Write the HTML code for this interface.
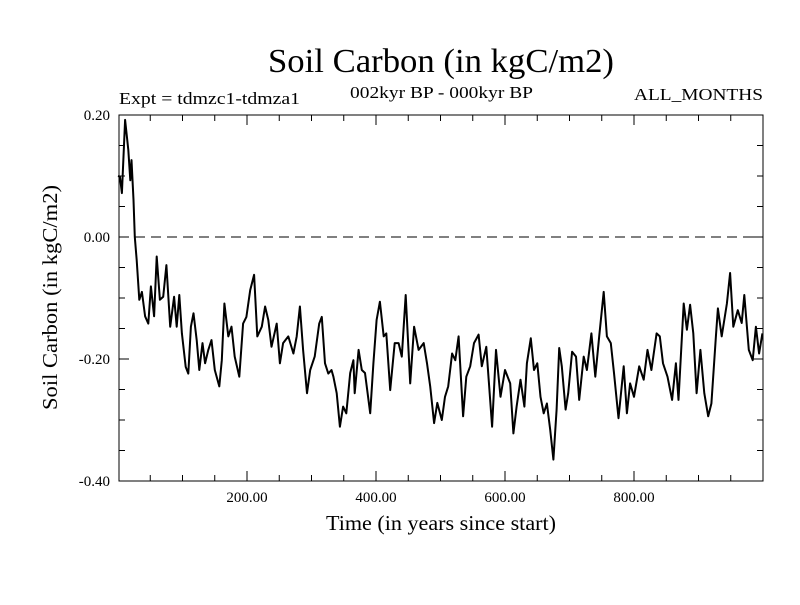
<!DOCTYPE html>
<html><head><meta charset="utf-8"><style>
body{margin:0;background:#fff}
svg text{font-family:"Liberation Serif",serif;fill:#000}
</style></head><body>
<svg id="c" width="800" height="600">
<rect width="800" height="600" fill="#fff"/>
<text x="268" y="72" font-size="34" textLength="346" lengthAdjust="spacingAndGlyphs">Soil Carbon (in kgC/m2)</text>
<text x="119" y="104" font-size="17" textLength="181" lengthAdjust="spacingAndGlyphs">Expt = tdmzc1-tdmza1</text>
<text x="350" y="98" font-size="17" textLength="183" lengthAdjust="spacingAndGlyphs">002kyr BP - 000kyr BP</text>
<text x="634" y="100" font-size="17" textLength="129" lengthAdjust="spacingAndGlyphs">ALL_MONTHS</text>
<text x="326" y="530" font-size="21" textLength="230" lengthAdjust="spacingAndGlyphs">Time (in years since start)</text>
<text transform="translate(57,410) rotate(-90)" font-size="21" textLength="225" lengthAdjust="spacingAndGlyphs">Soil Carbon (in kgC/m2)</text>
<g id="ax"></g>
</svg>
<script>
const years=[0,3,6,11,16,19,21,24,26,29,33,37,42,47,51,56,60,65,70,75,81,87,91,95,99,105,109,113,117,122,126,131,135,140,145,150,157,161,165,171,176,181,188,194,199,205,211,216,223,228,233,238,246,251,256,264,272,277,282,287,293,298,305,312,316,321,326,331,334,339,344,349,354,360,365,367,373,378,383,391,396,401,406,412,416,422,429,435,440,446,453,459,466,474,479,484,490,495,502,507,512,518,523,528,535,540,546,552,559,564,571,580,586,593,600,608,613,618,624,630,634,640,645,650,655,660,665,670,675,680,684,688,694,698,704,710,715,722,727,734,740,746,753,758,764,769,776,784,789,794,800,808,815,821,827,835,840,845,852,859,865,869,877,882,887,892,897,903,909,915,920,927,930,936,944,949,954,961,967,971,978,984,989,994,999];
const values=[0.10,0.099,0.072,0.192,0.143,0.093,0.126,0.061,0.0,-0.038,-0.103,-0.09,-0.13,-0.142,-0.081,-0.13,-0.032,-0.103,-0.098,-0.046,-0.147,-0.098,-0.147,-0.095,-0.158,-0.213,-0.224,-0.147,-0.125,-0.169,-0.218,-0.174,-0.207,-0.185,-0.169,-0.218,-0.245,-0.202,-0.109,-0.163,-0.147,-0.196,-0.229,-0.142,-0.131,-0.087,-0.062,-0.163,-0.147,-0.114,-0.136,-0.18,-0.142,-0.207,-0.174,-0.163,-0.191,-0.163,-0.114,-0.185,-0.256,-0.218,-0.196,-0.142,-0.131,-0.207,-0.224,-0.218,-0.229,-0.256,-0.311,-0.278,-0.289,-0.223,-0.202,-0.256,-0.185,-0.218,-0.223,-0.289,-0.207,-0.136,-0.106,-0.163,-0.158,-0.251,-0.174,-0.174,-0.196,-0.095,-0.24,-0.147,-0.185,-0.174,-0.207,-0.245,-0.305,-0.272,-0.3,-0.262,-0.245,-0.191,-0.202,-0.163,-0.294,-0.229,-0.212,-0.174,-0.16,-0.212,-0.18,-0.311,-0.185,-0.262,-0.218,-0.24,-0.322,-0.278,-0.234,-0.278,-0.207,-0.166,-0.218,-0.207,-0.262,-0.289,-0.273,-0.316,-0.365,-0.283,-0.182,-0.212,-0.283,-0.256,-0.188,-0.196,-0.267,-0.196,-0.218,-0.158,-0.229,-0.163,-0.09,-0.163,-0.174,-0.223,-0.297,-0.212,-0.289,-0.24,-0.262,-0.212,-0.234,-0.185,-0.218,-0.158,-0.163,-0.207,-0.229,-0.267,-0.207,-0.267,-0.109,-0.152,-0.111,-0.158,-0.256,-0.185,-0.256,-0.294,-0.273,-0.163,-0.117,-0.163,-0.109,-0.059,-0.147,-0.12,-0.141,-0.095,-0.185,-0.202,-0.147,-0.191,-0.158];
const xTicks=[200,400,600,800];
const yTicks=[0.2,0.0,-0.2,-0.4];
const X0=119,X1=763,Y0=115,Y1=481;
const sx=v=>118+v*0.645;
const sy=v=>Y0+(0.2-v)/0.6*(Y1-Y0);
const ns="http://www.w3.org/2000/svg";
const ax=document.getElementById('ax');
function mk(t,a){const e=document.createElementNS(ns,t);for(const k in a)e.setAttribute(k,a[k]);ax.appendChild(e);return e;}
const frame=mk('rect',{x:X0,y:Y0,width:X1-X0,height:Y1-Y0,fill:'none',stroke:'#000','stroke-width':1});


for(let v=50;v<1000;v+=50){const x=sx(v),L=v%200===0?10:6;
 const t1=mk('line',{x1:x,x2:x,y1:Y1,y2:Y1-L,stroke:'#000'});
 const t2=mk('line',{x1:x,x2:x,y1:Y0,y2:Y0+L,stroke:'#000'});}
for(let i=0;i<=12;i++){const v=0.2-i*0.05,y=sy(v),L=i%4===0?10:6;
 const t1=mk('line',{x1:X0,x2:X0+L,y1:y,y2:y,stroke:'#000'});
 const t2=mk('line',{x1:X1,x2:X1-L,y1:y,y2:y,stroke:'#000'});}
xTicks.forEach(v=>{const t=mk('text',{x:sx(v),y:502,'font-size':15,'text-anchor':'middle'});t.textContent=v.toFixed(2);
 });
yTicks.forEach(v=>{const t=mk('text',{x:110,y:sy(v)+5,'font-size':15,'text-anchor':'end'});t.textContent=v.toFixed(2);
 });
const zl=mk('line',{x1:X0,x2:X1,y1:sy(0),y2:sy(0),stroke:'#000','stroke-dasharray':'10,6'});


const p=mk('polyline',{points:years.map((y,i)=>sx(y).toFixed(1)+','+sy(values[i]).toFixed(1)).join(' '),fill:'none',stroke:'#000','stroke-width':2,'stroke-linejoin':'round'});


</script>
</body></html>
